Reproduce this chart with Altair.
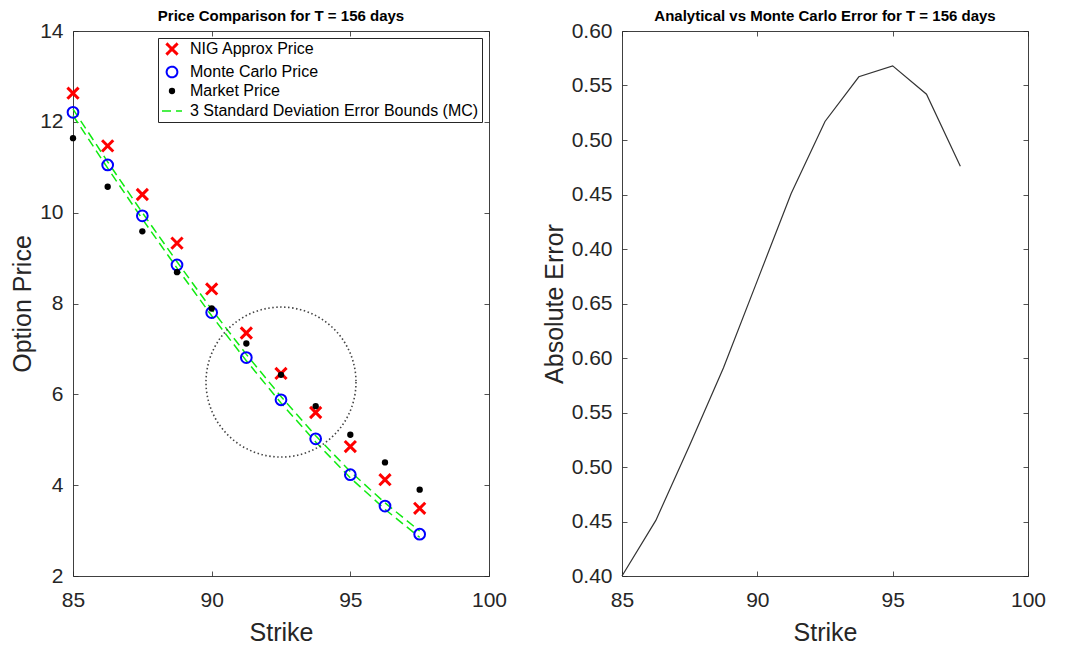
import altair as alt
import pandas as pd

# ---------------- data ----------------
strikes = [85, 86.25, 87.5, 88.75, 90, 91.25, 92.5, 93.75, 95, 96.25, 97.5]
nig_price = [12.63, 11.47, 10.40, 9.33, 8.32, 7.35, 6.46, 5.60, 4.85, 4.12, 3.49]
mc_price = [12.21, 11.05, 9.93, 8.85, 7.80, 6.81, 5.88, 5.02, 4.23, 3.54, 2.92]
market_price = [11.64, 10.57, 9.59, 8.69, 7.89, 7.12, 6.43, 5.74, 5.11, 4.50, 3.90]
mc_upper = [12.28, 11.12, 10.00, 8.92, 7.87, 6.88, 5.95, 5.09, 4.30, 3.61, 2.99]
mc_lower = [12.14, 10.98, 9.86, 8.78, 7.73, 6.74, 5.81, 4.95, 4.16, 3.47, 2.85]
# error curve, in the coordinates of the right-hand axis
abs_error = [0.100, 0.151, 0.220, 0.291, 0.371, 0.451, 0.517, 0.558, 0.568, 0.542, 0.476]
# dotted highlight circle
circle_strike = [92.5]
circle_price = [6.27]

x_ticks = [85, 90, 95, 100]
price_ticks = [2, 4, 6, 8, 10, 12, 14]
err_ticks = [0.10, 0.15, 0.20, 0.25, 0.30, 0.35, 0.40, 0.45, 0.50, 0.55, 0.60]

series_names = ["NIG Approx Price", "Monte Carlo Price", "Market Price",
                "3 Standard Deviation Error Bounds (MC)"]
colors = ["#ff0000", "#0000ff", "#000000", "#10ea10"]
X_PATH = "M-1,-1L1,1M-1,1L1,-1"
shapes = [X_PATH, "circle", "circle", "stroke"]
fills = ["transparent", "transparent", "#000000", "transparent"]
sizes = [125, 115, 40, 400]
widths = [3, 2, 0, 1.5]
dashes = [[1, 0], [1, 0], [1, 0], [9, 5]]

pts = pd.DataFrame({
    "strike": strikes * 3,
    "price": nig_price + mc_price + market_price,
    "series": [series_names[0]] * len(strikes) + [series_names[1]] * len(strikes)
              + [series_names[2]] * len(strikes),
})
bounds = pd.DataFrame({
    "strike": strikes * 2,
    "price": mc_upper + mc_lower,
    "bound": ["upper"] * len(strikes) + ["lower"] * len(strikes),
    "series": [series_names[3]] * (2 * len(strikes)),
})
circ = pd.DataFrame({"strike": circle_strike, "price": circle_price})
err = pd.DataFrame({"strike": strikes, "err": abs_error})

FONT = "Liberation Sans"
TXT = "#262626"

def sc(rng):
    return alt.Scale(type="ordinal", domain=series_names, range=rng)

def axis(orient, values, title=None, labels=True, label_expr=None):
    kw = dict(orient=orient, values=values, title=title, labels=labels,
              offset=-5, tickSize=5, domain=False, grid=False, labelFlush=False,
              tickColor=TXT, tickWidth=0.8)
    if orient == "bottom":
        kw.update(labelPadding=13, titlePadding=10)
    if orient == "left":
        kw.update(labelPadding=10, titlePadding=4)
    if label_expr:
        kw["labelExpr"] = label_expr
    return alt.Axis(**kw)

LEG = alt.Legend(orient="top-right", title=None)

xs = alt.Scale(domain=[85, 100], nice=False)
ys = alt.Scale(domain=[2, 14], nice=False)

lines = alt.Chart(bounds).mark_line().encode(
    x=alt.X("strike:Q", scale=xs, axis=axis("bottom", x_ticks, "Strike")),
    y=alt.Y("price:Q", scale=ys, axis=axis("left", price_ticks, "Option Price")),
    detail="bound:N",
    stroke=alt.Stroke("series:N", scale=sc(colors), legend=LEG),
    strokeDash=alt.StrokeDash("series:N", scale=sc(dashes), legend=LEG),
    strokeWidth=alt.StrokeWidth("series:N", scale=sc(widths), legend=LEG),
)

points = alt.Chart(pts).mark_point(filled=False, opacity=1).encode(
    x=alt.X("strike:Q", scale=xs, axis=axis("top", x_ticks, labels=False)),
    y=alt.Y("price:Q", scale=ys, axis=axis("right", price_ticks, labels=False)),
    stroke=alt.Stroke("series:N", scale=sc(colors), legend=LEG),
    fill=alt.Fill("series:N", scale=sc(fills), legend=LEG),
    shape=alt.Shape("series:N", scale=sc(shapes), legend=LEG),
    size=alt.Size("series:N", scale=sc(sizes), legend=LEG),
    strokeWidth=alt.StrokeWidth("series:N", scale=sc(widths), legend=LEG),
)

ring = alt.Chart(circ).mark_point(
    shape="circle", size=22500, filled=False, stroke="#444444",
    strokeWidth=1.6, strokeDash=[1.5, 2.5], opacity=1
).encode(
    x=alt.X("strike:Q", scale=xs, axis=None),
    y=alt.Y("price:Q", scale=ys, axis=None),
)

left = alt.layer(lines, points, ring).resolve_axis(x="independent", y="independent").properties(
    width=416, height=545,
    title=alt.TitleParams("Price Comparison for T = 156 days", fontSize=15,
                          fontWeight="bold", font=FONT, color="#000000", offset=-4),
)

es = alt.Scale(domain=[0.10, 0.60], nice=False)
lab = "format(datum.value < 0.375 ? datum.value + 0.3 : datum.value, '.2f')"

err_line = alt.Chart(err).mark_line(color="#333333", strokeWidth=1.2).encode(
    x=alt.X("strike:Q", scale=xs, axis=axis("bottom", x_ticks, "Strike")),
    y=alt.Y("err:Q", scale=es, axis=axis("left", err_ticks, "Absolute Error", label_expr=lab)),
)
err_frame = alt.Chart(err).mark_line(opacity=0).encode(
    x=alt.X("strike:Q", scale=xs, axis=axis("top", x_ticks, labels=False)),
    y=alt.Y("err:Q", scale=es, axis=axis("right", err_ticks, labels=False)),
)
right = alt.layer(err_line, err_frame).resolve_axis(x="independent", y="independent").properties(
    width=406, height=545,
    title=alt.TitleParams("Analytical vs Monte Carlo Error for T = 156 days", fontSize=15,
                          fontWeight="bold", font=FONT, color="#000000", offset=-4),
)

chart = alt.hconcat(left, right, spacing=33).resolve_scale(
    stroke="independent", fill="independent", shape="independent",
    size="independent", strokeWidth="independent", strokeDash="independent",
).resolve_legend(
    stroke="independent", fill="independent", shape="independent",
    size="independent", strokeWidth="independent", strokeDash="independent",
).properties(
    padding={"left": 10, "top": 8, "right": 5, "bottom": 5},
    background="white",
).configure_view(
    stroke="#404040", strokeWidth=1
).configure_axis(
    labelFont=FONT, labelFontSize=21, labelColor=TXT,
    titleFont=FONT, titleFontSize=25, titleFontWeight="normal", titleColor=TXT,
).configure_legend(
    orient="top-right", offset=7, padding=3, strokeColor="#262626", fillColor="white",
    labelFont=FONT, labelFontSize=16, labelColor="#000000", rowPadding=1,
    labelOffset=7, symbolOffset=0, labelLimit=400,
)

chart.save("out.html", embed_options={"renderer": "svg", "actions": False})
